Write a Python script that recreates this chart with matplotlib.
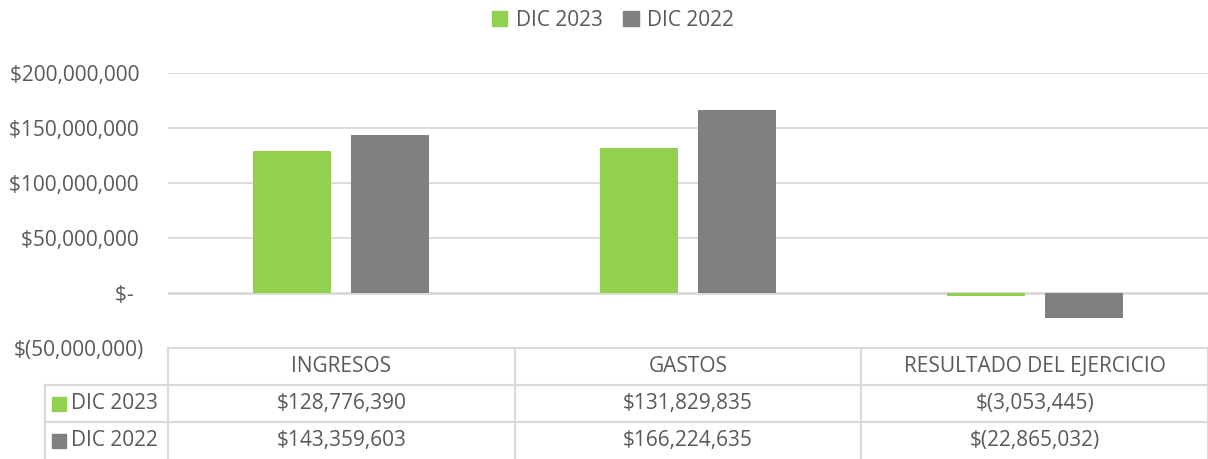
import matplotlib.pyplot as plt
from matplotlib.patches import Rectangle
import numpy as np

categories = ['INGRESOS', 'GASTOS', 'RESULTADO DEL EJERCICIO']
series = ['DIC 2023', 'DIC 2022']
dic_2023 = [128776390, 131829835, -3053445]
dic_2022 = [143359603, 166224635, -22865032]
colors = ['#92D050', '#808080']
yticks = [-50000000, 0, 50000000, 100000000, 150000000, 200000000]

plt.rcParams['font.family'] = ['Open Sans', 'DejaVu Sans']
txt = '#595959'
grid = '#D9D9D9'
fs = 15


def money(v, pad=False):
    if v == 0:
        return '$-  '
    s = '{:,.0f}'.format(abs(v))
    return '$(' + s + ')' if v < 0 else '$' + s + (' ' if pad else '')


W, H = 1208, 459
fig = plt.figure(figsize=(W / 100, H / 100), dpi=100)

# plot area in pixels
x0, x1 = 168, 1208
ytop, ybot = 73, 348
ax = fig.add_axes([x0 / W, 1 - ybot / H, (x1 - x0) / W, (ybot - ytop) / H])

x = np.arange(len(categories))
bw = 0.225
off = 0.141
ax.bar(x - off, dic_2023, bw, color=colors[0], zorder=3)
ax.bar(x + off, dic_2022, bw, color=colors[1], zorder=3)

ax.set_xlim(-0.5, len(categories) - 0.5)
ax.set_ylim(yticks[0], yticks[-1])
ax.set_yticks(yticks)
ax.set_yticklabels([money(v, True) for v in yticks], fontsize=fs, color=txt)
ax.tick_params(axis='y', length=0, pad=17)
ax.set_xticks([])
for s in ax.spines.values():
    s.set_visible(False)
for v in yticks:
    ax.axhline(v, color=grid, lw=2.0 if v == 0 else 1.3, zorder=1)

# data table below the plot
tab = fig.add_axes([0, 0, 1, 1], facecolor='none')
tab.set_xlim(0, W)
tab.set_ylim(H, 0)
tab.axis('off')
cols = [x0 + i * (x1 - x0) / len(categories) for i in range(len(categories) + 1)]
rows = [348, 385, 422, 459]
lx = 45
lc = dict(color=grid, lw=1.5)
tab.plot([x0, x1], [rows[0], rows[0]], **lc)
for r in rows[1:3]:
    tab.plot([lx, x1], [r, r], **lc)
tab.plot([lx, lx], [rows[1], H], **lc)
for c in cols:
    tab.plot([c, c], [rows[0], H], **lc)

for i, cat in enumerate(categories):
    cx = (cols[i] + cols[i + 1]) / 2
    tab.text(cx, (rows[0] + rows[1]) / 2, cat, ha='center', va='center',
             fontsize=fs, color=txt)
    for j, vals in enumerate([dic_2023, dic_2022]):
        tab.text(cx, (rows[j + 1] + rows[j + 2]) / 2, money(vals[i]),
                 ha='center', va='center', fontsize=fs, color=txt)

for j, name in enumerate(series):
    yc = (rows[j + 1] + rows[j + 2]) / 2
    tab.add_patch(Rectangle((52, yc - 7), 14, 14, color=colors[j]))
    tab.text(71, yc, name, ha='left', va='center', fontsize=fs, color=txt)

# legend on top
handles = [Rectangle((0, 0), 1, 1, color=c) for c in colors]
fig.legend(handles, series, loc='center', bbox_to_anchor=(613 / W, 1 - 20 / H),
           ncol=2, frameon=False, fontsize=fs, labelcolor=txt,
           handlelength=0.75, handleheight=0.75, handletextpad=0.4, columnspacing=1.0)

fig.savefig('out.png', dpi=100)
